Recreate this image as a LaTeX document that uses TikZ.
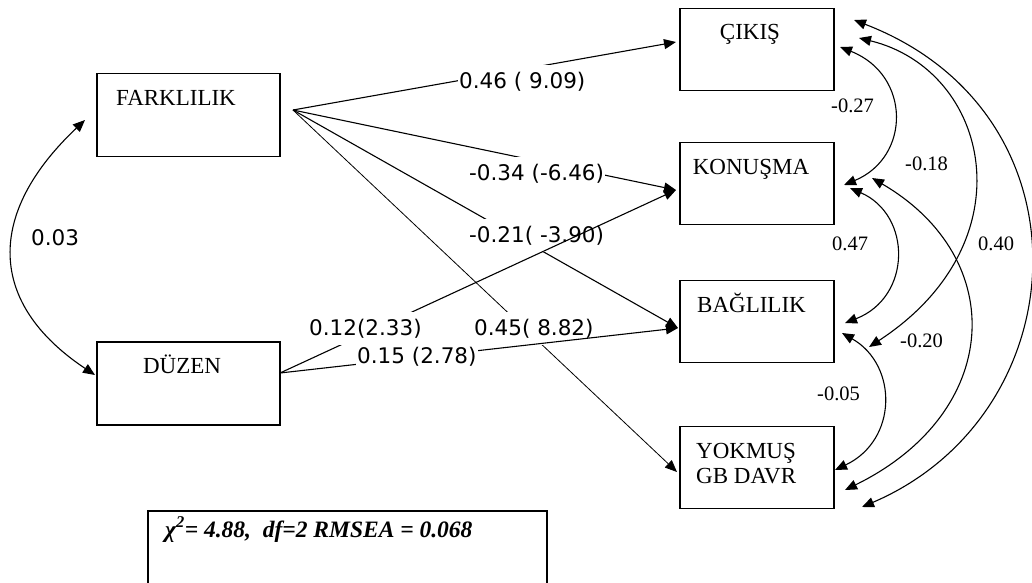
\documentclass[tikz,border=0pt]{standalone}
\usepackage{fontspec}
\setmainfont{Liberation Serif}
\newfontfamily\numfont{DejaVu Sans}
\usetikzlibrary{arrows.meta,calc}
\begin{document}
\begin{tikzpicture}[x=1pt,y=-1pt,
  box/.style={draw,line width=1.3pt,inner sep=0pt,outer sep=0pt},
  bigbox/.style={box,minimum width=183pt,minimum height=83pt},
  smallbox/.style={box,minimum width=154pt,minimum height=82pt},
  boxtext/.style={anchor=base,inner sep=0pt,font=\fontsize{23}{25}\selectfont},
  lbl/.style={anchor=base west,fill=white,inner xsep=1pt,inner ysep=7pt,font=\numfont\fontsize{21.5}{25}\selectfont},
  cov/.style={anchor=base west,inner sep=0pt,font=\fontsize{20.5}{24}\selectfont},
  path/.style={line width=1.1pt,-{Triangle[length=12pt,width=10pt]}},
  thinpath/.style={line width=0.8pt,-{Triangle[length=12pt,width=10pt]}},
  twoway/.style={line width=1.1pt,{Triangle[length=12pt,width=10pt]}-{Triangle[length=12pt,width=10pt]}}
]
\useasboundingbox (0,0) rectangle (1032,582);

% boxes
\node[bigbox] (fark) at (188.5,115) {};
\node[bigbox] (duzen) at (188.5,383.5) {};
\node[smallbox] (cikis) at (757,49.5) {};
\node[smallbox] (konus) at (757,183.5) {};
\node[smallbox] (bag) at (757,321.5) {};
\node[smallbox] (yok) at (757,467.5) {};

\node[boxtext] (tfark) at (176,105) {FARKLILIK};
\node[boxtext] (tduzen) at (182,373) {DÜZEN};
\node[boxtext] (tcikis) at (750,39) {ÇIKIŞ};
\node[boxtext] (tkonus) at (751,174) {KONUŞMA};
\node[boxtext] (tbag) at (751.5,312) {BAĞLILIK};
\node[boxtext,anchor=base west] (tyok1) at (696,458) {YOKMUŞ};
\node[boxtext,anchor=base west] (tyok2) at (696,483) {GB DAVR};

% source points
\coordinate (fo) at ($(fark.east)+(13,-5)$);
\coordinate (do) at ($(duzen.east)+(0,-10.5)$);

% paths from FARKLILIK
\draw[path] (fo) -- ($(cikis.west)+(-4,-7.5)$);
\draw[path] (fo) -- ($(konus.west)+(-4,6.5)$);
\draw[path] (fo) -- ($(bag.west)+(-2,6.5)$);
\draw[thinpath] (fo) -- ($(yok.west)+(-3,4.5)$);

\node[lbl] (l1) at (458,88) {0.46 ( 9.09)};
\node[lbl] (l2) at (468,180) {-0.34 (-6.46)};
\node[lbl] (l3) at (468,242) {-0.21( -3.90)};
\node[lbl] (l4) at (473,335) {0.45( 8.82)};

% paths from DÜZEN
\draw[path] (do) -- ($(konus.west)+(-4,6.5)$);
\draw[path] (do) -- ($(bag.west)+(-2,6.5)$);

\node[lbl] (l5) at (308,335) {0.12(2.33)};
\node[lbl] (l6) at (356,363) {0.15 (2.78)};

% covariance between exogenous
\draw[twoway] ($(fark.west)+(-12,5)$) .. controls +(-99,93.5) and +(-108,-72) .. ($(duzen.west)+(-2,-8.5)$);
\node[lbl,fill=none] (l7) at (30,245) {0.03};

% covariances between endogenous
\draw[twoway] ($(cikis.east)+(6,-2.5)$) .. controls +(71,28) and +(67,-28) .. ($(konus.east)+(10,1.5)$);
\draw[twoway] ($(cikis.east)+(25,-11.5)$) .. controls +(131,32) and +(161,-105) .. ($(bag.east)+(35,25.5)$);
\draw[twoway] ($(konus.east)+(38,-5.5)$) .. controls +(138,80.5) and +(157,-77) .. ($(yok.east)+(11,22.5)$);
\draw[twoway] ($(cikis.east)+(20,-29.5)$) .. controls +(242,93) and +(217,-93) .. ($(yok.east)+(28,39.5)$);
\draw[twoway] ($(konus.east)+(16,4.5)$) .. controls +(62,27) and +(67,-26) .. ($(bag.east)+(11,1.5)$);
\draw[twoway] ($(bag.east)+(8,11.5)$) .. controls +(56,32) and +(63,-30) .. ($(yok.east)+(1,2.5)$);

\node[cov] (c1) at (831,112) {-0.27};
\node[cov] (c2) at (905,170) {-0.18};
\node[cov] (c3) at (832,250) {0.47};
\node[cov] (c4) at (978,250) {0.40};
\node[cov] (c5) at (900,347) {-0.20};
\node[cov] (c6) at (817,400) {-0.05};

% fit statistics
\node[box,line width=1.2pt,minimum width=399pt,minimum height=75pt] (fit) at (347.5,548.5) {};
\node[anchor=base west,inner sep=0pt,font=\fontsize{23.5}{26}\selectfont\bfseries\itshape] (fittext) at (165,537) {χ\textsuperscript{2}= 4.88,\ \ df=2 RMSEA = 0.068};
\end{tikzpicture}
\end{document}
